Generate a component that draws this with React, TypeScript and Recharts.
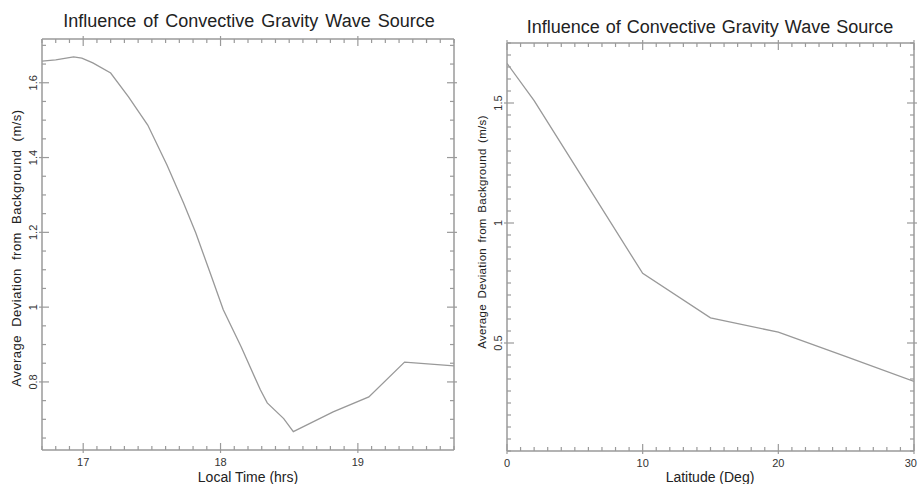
import React from 'react';
import { LineChart, Line, XAxis, YAxis } from 'recharts';

// Left panel: deviation vs local time
const timeHrs = [16.7, 16.8, 16.93, 16.99, 17.07, 17.2, 17.33, 17.47, 17.61, 17.73, 17.82, 17.93, 18.02, 18.15, 18.29, 18.34, 18.46, 18.53, 18.82, 19.08, 19.34, 19.7];
const timeDev = [1.658, 1.661, 1.669, 1.666, 1.653, 1.626, 1.562, 1.487, 1.38, 1.279, 1.198, 1.086, 0.993, 0.894, 0.779, 0.744, 0.702, 0.667, 0.72, 0.76, 0.853, 0.843];

// Right panel: deviation vs latitude
const latDeg = [0, 2, 5, 10, 15, 20, 25, 30];
const latDev = [1.665, 1.51, 1.24, 0.79, 0.605, 0.545, 0.443, 0.34];

// tick labels
const timeMajor = [17, 18, 19];
const latMajor = [0, 10, 20, 30];
const devMajorLeft = [0.8, 1, 1.2, 1.4, 1.6];
const devMajorRight = [0.5, 1, 1.5];

const steps = (from: number, to: number, step: number) => {
  const out: number[] = [];
  const n = Math.round((to - from) / step);
  for (let i = 0; i <= n; i++) out.push(Math.round((from + i * step) * 1000) / 1000);
  return out;
};

const timeData = timeHrs.map((t, i) => ({ x: t, y: timeDev[i] }));
const latData = latDeg.map((d, i) => ({ x: d, y: latDev[i] }));

const FRAME = '#9a9a9a';
const FONT = '"Liberation Sans", Arial, sans-serif';
const CHART_W = 459;

const FrameTick = (props: any) => {
  const { x = 0, y = 0, payload, side, majors, showLabel } = props;
  const v = payload.value;
  const major = majors.some((m: number) => Math.abs(m - v) < 1e-6);
  const inLen = major ? 7 : 4;
  const outLen = major ? 3 : 0;
  let tick;
  let label = null;
  if (side === 'left') {
    tick = <line x1={x - outLen} x2={x + inLen} y1={y} y2={y} />;
    if (major && showLabel)
      label = (
        <text x={x - 9} y={y} transform={`rotate(-90, ${x - 9}, ${y})`} textAnchor="middle" dominantBaseline="central">
          {String(v)}
        </text>
      );
  } else if (side === 'right') {
    tick = <line x1={x + outLen} x2={x - inLen} y1={y} y2={y} />;
  } else if (side === 'top') {
    tick = <line x1={x} x2={x} y1={y - outLen} y2={y + inLen} />;
  } else {
    tick = <line x1={x} x2={x} y1={y + outLen} y2={y - inLen} />;
    if (major && showLabel) {
      // keep the last label inside the picture
      const clip = x + 7 > CHART_W - 1;
      label = (
        <text x={clip ? CHART_W - 1 : x} y={y + 12} textAnchor={clip ? 'end' : 'middle'} dominantBaseline="central">
          {String(v)}
        </text>
      );
    }
  }
  return (
    <g>
      <g stroke={FRAME} strokeWidth={1.2}>{tick}</g>
      {label && (
        <g fill="#333" fontSize={11} fontFamily={FONT}>
          {label}
        </g>
      )}
    </g>
  );
};

interface PanelProps {
  data: { x: number; y: number }[];
  xDomain: [number, number];
  yDomain: [number, number];
  xTicks: number[];
  yTicks: number[];
  xMajor: number[];
  yMajor: number[];
  box: { top: number; right: number; bottom: number; left: number };
}

// box = distances from the chart edges to the plot frame; the axes fill them
const Panel = ({ data, xDomain, yDomain, xTicks, yTicks, xMajor, yMajor, box }: PanelProps) => {
  const axisCommon = {
    type: 'number' as const,
    allowDataOverflow: true,
    tickLine: false,
    tickSize: 0,
    tickMargin: 0,
    interval: 0 as const,
    axisLine: { stroke: FRAME, strokeWidth: 1.5 },
  };
  return (
    <LineChart width={CHART_W} height={484} data={data} margin={{ top: 0, right: 0, bottom: 0, left: 0 }}>
      <XAxis {...axisCommon} xAxisId="b" dataKey="x" orientation="bottom" height={box.bottom} domain={xDomain} ticks={xTicks}
        tick={<FrameTick side="bottom" majors={xMajor} showLabel />} />
      <XAxis {...axisCommon} xAxisId="t" dataKey="x" orientation="top" height={box.top} domain={xDomain} ticks={xTicks}
        tick={<FrameTick side="top" majors={xMajor} />} />
      <YAxis {...axisCommon} yAxisId="l" orientation="left" width={box.left} domain={yDomain} ticks={yTicks}
        tick={<FrameTick side="left" majors={yMajor} showLabel />} />
      <YAxis {...axisCommon} yAxisId="r" orientation="right" width={box.right} domain={yDomain} ticks={yTicks}
        tick={<FrameTick side="right" majors={yMajor} />} />
      <Line xAxisId="b" yAxisId="l" dataKey="y" type="linear" stroke="#999" strokeWidth={1.3} dot={false} isAnimationActive={false} />
      <Line xAxisId="t" yAxisId="r" dataKey="y" type="linear" stroke="none" strokeOpacity={0} dot={false} isAnimationActive={false} />
    </LineChart>
  );
};

const textBase: React.CSSProperties = {
  position: 'absolute',
  fontFamily: FONT,
  color: '#222',
  whiteSpace: 'nowrap',
  textAlign: 'center',
};

const App = () => (
  <div style={{ position: 'absolute', left: 0, top: 0, width: 918, height: 484, background: '#fff', overflow: 'hidden' }}>
    <div style={{ position: 'absolute', left: 0, top: 0 }}>
      <Panel
        data={timeData}
        xDomain={[16.7, 19.7]}
        yDomain={[0.618, 1.717]}
        xTicks={steps(16.7, 19.7, 0.1)}
        yTicks={steps(0.65, 1.7, 0.05)}
        xMajor={timeMajor}
        yMajor={devMajorLeft}
        box={{ top: 39, right: 5, bottom: 34, left: 42 }}
      />
    </div>
    <div style={{ position: 'absolute', left: 459, top: 0 }}>
      <Panel
        data={latData}
        xDomain={[0, 30]}
        yDomain={[0.05, 1.75]}
        xTicks={steps(0, 30, 1)}
        yTicks={steps(0.05, 1.75, 0.05)}
        xMajor={latMajor}
        yMajor={devMajorRight}
        box={{ top: 43, right: 4, bottom: 33, left: 48 }}
      />
    </div>

    <div style={{ ...textBase, left: -1, width: 500, top: 12, fontSize: 18, lineHeight: '18px', wordSpacing: 2 }}>
      Influence of Convective Gravity Wave Source
    </div>
    <div style={{ ...textBase, left: 460, width: 500, top: 18, fontSize: 18, lineHeight: '18px', wordSpacing: 1 }}>
      Influence of Convective Gravity Wave Source
    </div>

    <div style={{ ...textBase, left: 148, width: 200, top: 470, fontSize: 14, lineHeight: '14px' }}>Local Time (hrs)</div>
    <div style={{ ...textBase, left: 610, width: 200, top: 470, fontSize: 14, lineHeight: '14px' }}>Latitude (Deg)</div>

    <div style={{ ...textBase, left: 17 - 160, top: 248 - 8, width: 320, height: 16, fontSize: 13, lineHeight: '16px', letterSpacing: 0.5, wordSpacing: 4, transform: 'rotate(-90deg)' }}>
      Average Deviation from Background (m/s)
    </div>
    <div style={{ ...textBase, left: 482 - 160, top: 232 - 8, width: 320, height: 16, fontSize: 11.5, lineHeight: '16px', letterSpacing: 0.3, wordSpacing: 2, transform: 'rotate(-90deg)' }}>
      Average Deviation from Background (m/s)
    </div>
  </div>
);

export default App;
